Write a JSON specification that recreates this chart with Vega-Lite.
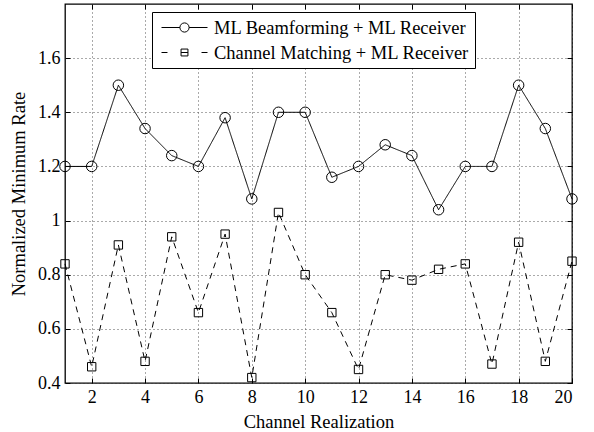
{
  "$schema": "https://vega.github.io/schema/vega-lite/v6.json",
  "width": 507,
  "height": 379,
  "autosize": "none",
  "padding": {"left": 65, "top": 4, "right": 22, "bottom": 49},
  "background": "white",
  "config": {
    "font": "Liberation Serif, Times New Roman, DejaVu Serif, serif",
    "view": {"stroke": "black", "strokeWidth": 1.3},
    "axis": {
      "labelFont": "Liberation Serif, Times New Roman, DejaVu Serif, serif",
      "labelFontSize": 18,
      "labelColor": "black",
      "titleFont": "Liberation Serif, Times New Roman, DejaVu Serif, serif",
      "titleFontSize": 18.5,
      "titleFontWeight": "normal",
      "titleColor": "black",
      "domainColor": "black",
      "domainWidth": 1.3,
      "tickColor": "black",
      "tickSize": -5,
      "tickWidth": 1,
      "gridColor": "#555555",
      "gridDash": [1, 3],
      "gridWidth": 1,
      "gridOpacity": 1
    }
  },
  "data": {
    "values": [
      {"x": 1, "series": "ML Beamforming + ML Receiver", "value": 1.2},
      {"x": 2, "series": "ML Beamforming + ML Receiver", "value": 1.2},
      {"x": 3, "series": "ML Beamforming + ML Receiver", "value": 1.5},
      {"x": 4, "series": "ML Beamforming + ML Receiver", "value": 1.34},
      {"x": 5, "series": "ML Beamforming + ML Receiver", "value": 1.24},
      {"x": 6, "series": "ML Beamforming + ML Receiver", "value": 1.2},
      {"x": 7, "series": "ML Beamforming + ML Receiver", "value": 1.38},
      {"x": 8, "series": "ML Beamforming + ML Receiver", "value": 1.08},
      {"x": 9, "series": "ML Beamforming + ML Receiver", "value": 1.4},
      {"x": 10, "series": "ML Beamforming + ML Receiver", "value": 1.4},
      {"x": 11, "series": "ML Beamforming + ML Receiver", "value": 1.16},
      {"x": 12, "series": "ML Beamforming + ML Receiver", "value": 1.2},
      {"x": 13, "series": "ML Beamforming + ML Receiver", "value": 1.28},
      {"x": 14, "series": "ML Beamforming + ML Receiver", "value": 1.24},
      {"x": 15, "series": "ML Beamforming + ML Receiver", "value": 1.04},
      {"x": 16, "series": "ML Beamforming + ML Receiver", "value": 1.2},
      {"x": 17, "series": "ML Beamforming + ML Receiver", "value": 1.2},
      {"x": 18, "series": "ML Beamforming + ML Receiver", "value": 1.5},
      {"x": 19, "series": "ML Beamforming + ML Receiver", "value": 1.34},
      {"x": 20, "series": "ML Beamforming + ML Receiver", "value": 1.08},
      {"x": 1, "series": "Channel Matching + ML Receiver", "value": 0.84},
      {"x": 2, "series": "Channel Matching + ML Receiver", "value": 0.46},
      {"x": 3, "series": "Channel Matching + ML Receiver", "value": 0.91},
      {"x": 4, "series": "Channel Matching + ML Receiver", "value": 0.48},
      {"x": 5, "series": "Channel Matching + ML Receiver", "value": 0.94},
      {"x": 6, "series": "Channel Matching + ML Receiver", "value": 0.66},
      {"x": 7, "series": "Channel Matching + ML Receiver", "value": 0.95},
      {"x": 8, "series": "Channel Matching + ML Receiver", "value": 0.42},
      {"x": 9, "series": "Channel Matching + ML Receiver", "value": 1.03},
      {"x": 10, "series": "Channel Matching + ML Receiver", "value": 0.8},
      {"x": 11, "series": "Channel Matching + ML Receiver", "value": 0.66},
      {"x": 12, "series": "Channel Matching + ML Receiver", "value": 0.45},
      {"x": 13, "series": "Channel Matching + ML Receiver", "value": 0.8},
      {"x": 14, "series": "Channel Matching + ML Receiver", "value": 0.78},
      {"x": 15, "series": "Channel Matching + ML Receiver", "value": 0.82},
      {"x": 16, "series": "Channel Matching + ML Receiver", "value": 0.84},
      {"x": 17, "series": "Channel Matching + ML Receiver", "value": 0.47},
      {"x": 18, "series": "Channel Matching + ML Receiver", "value": 0.92},
      {"x": 19, "series": "Channel Matching + ML Receiver", "value": 0.48},
      {"x": 20, "series": "Channel Matching + ML Receiver", "value": 0.85}
    ]
  },
  "layer": [
    {
      "mark": {"type": "line", "color": "black", "strokeWidth": 1},
      "encoding": {
        "x": {
          "field": "x", "type": "quantitative",
          "scale": {"domain": [1, 20], "nice": false, "zero": false},
          "axis": {"orient": "bottom", "title": "Channel Realization", "values": [2, 4, 6, 8, 10, 12, 14, 16, 18, 20], "grid": true, "labelPadding": 10, "titlePadding": 6, "domain": false}
        },
        "y": {
          "field": "value", "type": "quantitative",
          "scale": {"domain": [0.4, 1.8], "nice": false, "zero": false},
          "axis": {"orient": "left", "title": "Normalized Minimum Rate", "values": [0.4, 0.6, 0.8, 1, 1.2, 1.4, 1.6], "format": "~g", "grid": true, "labelPadding": 10, "titlePadding": 9, "domain": false}
        },
        "strokeDash": {
          "field": "series", "type": "nominal",
          "scale": {"domain": ["ML Beamforming + ML Receiver", "Channel Matching + ML Receiver"], "range": [[1, 0], [6, 5]]},
          "legend": null
        }
      }
    },
    {
      "mark": {"type": "point", "filled": false, "color": "black", "strokeWidth": 1, "opacity": 1},
      "encoding": {
        "x": {"field": "x", "type": "quantitative", "axis": null},
        "y": {"field": "value", "type": "quantitative", "axis": null},
        "shape": {
          "field": "series", "type": "nominal",
          "scale": {"domain": ["ML Beamforming + ML Receiver", "Channel Matching + ML Receiver"], "range": ["circle", "square"]},
          "legend": null
        },
        "size": {
          "condition": {"test": "datum.series == 'Channel Matching + ML Receiver'", "value": 70},
          "value": 110
        }
      }
    },
    {
      "mark": {"type": "point", "filled": false, "color": "black", "strokeWidth": 1, "opacity": 0},
      "encoding": {
        "x": {
          "field": "x", "type": "quantitative",
          "axis": {"orient": "top", "title": null, "labels": false, "grid": false, "domain": false, "values": [2, 4, 6, 8, 10, 12, 14, 16, 18, 20]}
        },
        "y": {
          "field": "value", "type": "quantitative",
          "axis": {"orient": "right", "title": null, "labels": false, "grid": false, "domain": false, "values": [0.4, 0.6, 0.8, 1, 1.2, 1.4, 1.6]}
        },
        "shape": {
          "field": "series", "type": "nominal",
          "scale": {
            "domain": ["ML Beamforming + ML Receiver", "Channel Matching + ML Receiver"],
            "range": ["M-1,0H-0.2M0.2,0H1M0.2,0A0.2,0.2,0,1,1,-0.2,0A0.2,0.2,0,1,1,0.2,0", "M-1,0H-0.74M-0.15,0H0.15M0.74,0H1M-0.15,-0.15H0.15V0.15H-0.15Z"]
          },
          "legend": {
            "title": null,
            "orient": "none",
            "legendX": 87,
            "legendY": 8,
            "strokeColor": "black",
            "fillColor": "white",
            "padding": 6,
            "symbolOffset": 3,
            "labelFont": "Liberation Serif, Times New Roman, DejaVu Serif, serif",
            "labelFontSize": 18.5,
            "labelColor": "black",
            "labelLimit": 500,
            "labelExpr": "datum.label + '\u00a0\u00a0\u00a0'",
            "symbolSize": 2116,
            "symbolOpacity": 1,
            "symbolStrokeColor": "black",
            "symbolFillColor": "transparent",
            "symbolStrokeWidth": 1,
            "clipHeight": 19,
            "rowPadding": 6,
            "labelOffset": 6
          }
        }
      }
    }
  ],
  "resolve": {
    "axis": {"x": "independent", "y": "independent"},
    "scale": {"shape": "independent"}
  }
}
